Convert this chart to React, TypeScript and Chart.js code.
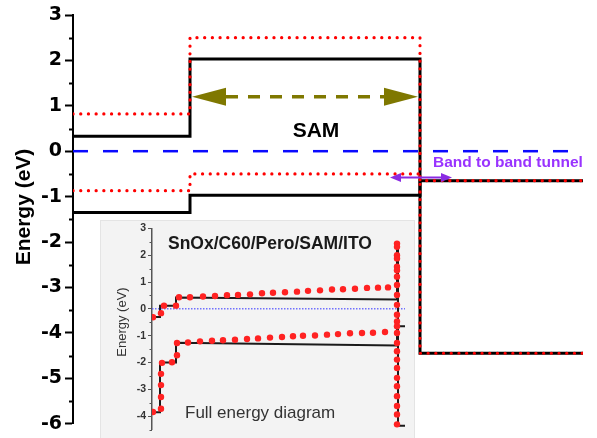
import React, { useEffect, useRef } from 'react';
import { Chart, registerables } from 'chart.js';

Chart.register(...registerables);

// ---------- Main diagram data ----------
const mainBoundaries = [0, 117, 347, 510]; // layer boundaries (a.u.): Perovskite | SAM | ITO
const mainLayers = ['Perovskite', 'SAM', 'ITO'];
const blackUpper = [0.33, 2.03, -4.45];
const blackLower = [-1.35, -0.97, -0.65];
const redUpper = [0.82, 2.5, -4.45];
const redLower = [-0.87, -0.5, -0.65];
const fermiLevel = [0, 0];
const fermiX = [0, 510];

// ---------- Inset (full energy diagram) data ----------
const insetBlackUpperX = [0, 8, 8, 24, 24, 245, 245, 246, 246, 253];
const insetBlackUpperY = [-0.3, -0.3, 0.12, 0.12, 0.42, 0.35, 2.3, 2.3, -4.35, -4.35];
const insetBlackLowerX = [0, 8, 8, 24, 24, 245, 245, 253];
const insetBlackLowerY = [-3.85, -3.85, -2.0, -2.0, -1.26, -1.36, -0.65, -0.65];
const insetRedUpperX = [1, 9, 12, 24, 27, 38, 51, 63, 75, 86, 98, 110, 121, 133, 145, 156, 168, 180, 191, 203, 215, 226, 236];
const insetRedUpperY = [-0.31, -0.16, 0.12, 0.12, 0.43, 0.43, 0.46, 0.48, 0.51, 0.52, 0.54, 0.58, 0.6, 0.62, 0.64, 0.67, 0.69, 0.72, 0.73, 0.75, 0.78, 0.79, 0.8];
const insetRedLowerX = [1, 9, 9, 9, 9, 10, 20, 25, 25, 36, 48, 60, 71, 83, 95, 106, 118, 130, 141, 151, 163, 175, 186, 198, 210, 221, 233];
const insetRedLowerY = [-3.84, -3.72, -3.28, -2.84, -2.42, -2.01, -1.99, -1.73, -1.27, -1.25, -1.21, -1.19, -1.17, -1.15, -1.12, -1.1, -1.07, -1.05, -1.02, -1.0, -0.99, -0.96, -0.94, -0.91, -0.9, -0.89, -0.86];
const insetRedColumnY = [2.43, 2.31, 2.0, 1.88, 1.57, 1.44, 1.2, 0.89, 0.52, 0.15, -0.22, -0.47, -0.65, -0.9, -1.27, -1.58, -1.89, -2.2, -2.57, -2.88, -3.25, -3.62, -3.93, -4.3];
const insetRedColumnX = 245;
const insetFermiX = [0, 253];
const insetFermiY = [0, 0];

const FONT = '"Liberation Sans", Arial, sans-serif';
const TICK_FONT = '"DejaVu Sans", "Liberation Sans", sans-serif';

function stepPath(bounds: number[], levels: number[]) {
  const pts: { x: number; y: number }[] = [];
  levels.forEach((v, i) => {
    pts.push({ x: bounds[i], y: v }, { x: bounds[i + 1], y: v });
  });
  return pts;
}

function zip(xs: number[], ys: number[]) {
  return xs.map((x, i) => ({ x, y: ys[i] }));
}

function head(ctx: CanvasRenderingContext2D, tx: number, ty: number, dir: number, len: number, half: number) {
  ctx.beginPath();
  ctx.moveTo(tx, ty);
  ctx.lineTo(tx - dir * len, ty - half);
  ctx.lineTo(tx - dir * len, ty + half);
  ctx.closePath();
  ctx.fill();
}

function minorTicks(chart: any, len: number, color: string, width: number) {
  const ctx = chart.ctx;
  const y = chart.scales.y;
  const left = chart.chartArea.left;
  ctx.save();
  ctx.strokeStyle = color;
  ctx.lineWidth = width;
  for (let v = y.min; v <= y.max + 1e-9; v += 0.5) {
    if (Math.abs(v % 1) > 0.01) {
      const py = Math.round(y.getPixelForValue(v)) + 0.5;
      ctx.beginPath();
      ctx.moveTo(left - len, py);
      ctx.lineTo(left, py);
      ctx.stroke();
    }
  }
  ctx.restore();
}

function verticalTitle(ctx: CanvasRenderingContext2D, text: string, x: number, y: number, font: string, color: string) {
  ctx.save();
  ctx.translate(x, y);
  ctx.rotate(-Math.PI / 2);
  ctx.font = font;
  ctx.fillStyle = color;
  ctx.textAlign = 'center';
  ctx.textBaseline = 'middle';
  ctx.fillText(text, 0, 0);
  ctx.restore();
}

const mainAnnotations = {
  id: 'mainAnnotations',
  afterDraw(chart: any) {
    const ctx = chart.ctx;
    const xs = chart.scales.x;
    const ys = chart.scales.y;
    minorTicks(chart, 4, '#000', 2);
    verticalTitle(ctx, 'Energy (eV)', 24, 207, `bold 21px ${FONT}`, '#000');
    ctx.save();
    // SAM width arrow (olive, dashed)
    const ay = ys.getPixelForValue(1.2);
    const ax1 = xs.getPixelForValue(119);
    const ax2 = xs.getPixelForValue(345);
    ctx.fillStyle = '#7f7800';
    ctx.strokeStyle = '#7f7800';
    head(ctx, ax1, ay, -1, 34, 9);
    head(ctx, ax2, ay, 1, 34, 9);
    ctx.lineWidth = 3.5;
    ctx.setLineDash([12, 10]);
    ctx.beginPath();
    ctx.moveTo(ax1 + 34, ay);
    ctx.lineTo(ax2 - 34, ay);
    ctx.stroke();
    ctx.setLineDash([]);
    // SAM label
    ctx.fillStyle = '#000';
    ctx.font = `bold 21px ${FONT}`;
    ctx.textAlign = 'center';
    ctx.textBaseline = 'middle';
    ctx.fillText('SAM', xs.getPixelForValue(243), ys.getPixelForValue(0.43));
    // band to band tunnel arrow
    const py = ys.getPixelForValue(-0.58);
    const px1 = xs.getPixelForValue(317);
    const px2 = xs.getPixelForValue(379);
    ctx.fillStyle = '#8a2be2';
    ctx.strokeStyle = '#8a2be2';
    ctx.lineWidth = 2;
    ctx.beginPath();
    ctx.moveTo(px1 + 8, py);
    ctx.lineTo(px2 - 8, py);
    ctx.stroke();
    head(ctx, px1, py, -1, 11, 4.5);
    head(ctx, px2, py, 1, 11, 4.5);
    ctx.fillStyle = '#9933ff';
    ctx.font = `bold 15.5px ${FONT}`;
    ctx.textAlign = 'left';
    ctx.fillText('Band to band tunnel', xs.getPixelForValue(360), ys.getPixelForValue(-0.26));
    ctx.restore();
  },
};

const insetDecor = {
  id: 'insetDecor',
  beforeDraw(chart: any) {
    const ctx = chart.ctx;
    ctx.save();
    ctx.fillStyle = '#f3f3f3';
    ctx.fillRect(0, 0, chart.width, chart.height);
    ctx.strokeStyle = '#e4e4e4';
    ctx.lineWidth = 1;
    ctx.strokeRect(0.5, 0.5, chart.width - 1, chart.height);
    ctx.restore();
  },
  afterDraw(chart: any) {
    const ctx = chart.ctx;
    minorTicks(chart, 2.5, '#555', 1);
    verticalTitle(ctx, 'Energy (eV)', 22, 102, `13px ${FONT}`, '#333');
    ctx.save();
    ctx.fillStyle = '#1a1a1a';
    ctx.font = `bold 17.5px ${FONT}`;
    ctx.textAlign = 'left';
    ctx.textBaseline = 'middle';
    ctx.fillText('SnOx/C60/Pero/SAM/ITO', 68, 24);
    ctx.fillStyle = '#333';
    ctx.font = `17px ${FONT}`;
    ctx.fillText('Full energy diagram', 85, 193);
    ctx.restore();
  },
};

function MainChart() {
  const ref = useRef<HTMLCanvasElement>(null);
  useEffect(() => {
    if (!ref.current) return;
    const chart = new Chart(ref.current, {
      type: 'line',
      data: {
        datasets: [
          { label: 'Red upper', data: stepPath(mainBoundaries, redUpper), borderColor: '#ff0000', borderWidth: 3.2, borderDash: [0.1, 7.6], borderCapStyle: 'round', pointRadius: 0, order: 0 },
          { label: 'Red lower', data: stepPath(mainBoundaries, redLower), borderColor: '#ff0000', borderWidth: 3.2, borderDash: [0.1, 7.6], borderCapStyle: 'round', pointRadius: 0, order: 0 },
          { label: 'Black upper', data: stepPath(mainBoundaries, blackUpper), borderColor: '#000', borderWidth: 3, pointRadius: 0, order: 2 },
          { label: 'Black lower', data: stepPath(mainBoundaries, blackLower), borderColor: '#000', borderWidth: 3, pointRadius: 0, order: 2 },
          { label: 'Fermi level', data: zip(fermiX, fermiLevel), borderColor: '#0a0aff', borderWidth: 2.5, borderDash: [15, 15], pointRadius: 0, order: 3 },
        ] as any,
      },
      options: {
        animation: false,
        responsive: false,
        devicePixelRatio: 1,
        layout: { padding: { top: 15, bottom: 13, left: 0, right: 14 } },
        plugins: { legend: { display: false }, tooltip: { enabled: false } },
        elements: { line: { tension: 0 } },
        scales: {
          x: { type: 'linear', min: 0, max: 510, display: false },
          y: {
            min: -6,
            max: 3,
            afterFit: (s: any) => { s.width = 73; },
            ticks: {
              stepSize: 0.5,
              autoSkip: false,
              padding: 3,
              color: '#000',
              font: { family: TICK_FONT, size: 19, weight: 'bold' },
              callback: (v: any) => (Math.abs(v % 1) < 0.01 ? String(v) : ''),
            },
            grid: {
              drawOnChartArea: false,
              tickLength: 8,
              tickWidth: 2,
              tickColor: (c: any) => (c.tick && Math.abs(c.tick.value % 1) < 0.01 ? '#000' : 'rgba(0,0,0,0)'),
            },
            border: { display: true, color: '#000', width: 2 },
            title: { display: false },
          },
        },
      },
      plugins: [mainAnnotations],
    } as any);
    return () => chart.destroy();
  }, []);
  return <canvas ref={ref} width={597} height={438} style={{ position: 'absolute', left: 0, top: 0 }} />;
}

function InsetChart() {
  const ref = useRef<HTMLCanvasElement>(null);
  useEffect(() => {
    if (!ref.current) return;
    const chart = new Chart(ref.current, {
      type: 'line',
      data: {
        datasets: [
          { label: 'Red upper', data: zip(insetRedUpperX, insetRedUpperY), showLine: false, pointRadius: 3.2, pointBackgroundColor: '#ff2222', pointBorderWidth: 0, order: 0 },
          { label: 'Red lower', data: zip(insetRedLowerX, insetRedLowerY), showLine: false, pointRadius: 3.2, pointBackgroundColor: '#ff2222', pointBorderWidth: 0, order: 0 },
          { label: 'Red SAM/ITO', data: insetRedColumnY.map((y) => ({ x: insetRedColumnX, y })), showLine: false, pointRadius: 3.2, pointBackgroundColor: '#ff2222', pointBorderWidth: 0, order: 0 },
          { label: 'Black upper', data: zip(insetBlackUpperX, insetBlackUpperY), borderColor: '#1a1a1a', borderWidth: 2, pointRadius: 0, order: 1 },
          { label: 'Black lower', data: zip(insetBlackLowerX, insetBlackLowerY), borderColor: '#1a1a1a', borderWidth: 2, pointRadius: 0, order: 1 },
          { label: 'Fermi', data: zip(insetFermiX, insetFermiY), borderColor: 'rgba(80,80,255,0.8)', borderWidth: 1.5, borderDash: [1.5, 1.5], pointRadius: 0, order: 2 },
        ] as any,
      },
      options: {
        animation: false,
        responsive: false,
        devicePixelRatio: 1,
        layout: { padding: { top: 8, bottom: 8, left: 0, right: 10 } },
        plugins: { legend: { display: false }, tooltip: { enabled: false } },
        scales: {
          x: { type: 'linear', min: 0, max: 253, display: false },
          y: {
            min: -4.5,
            max: 3,
            afterFit: (s: any) => { s.width = 52; },
            ticks: {
              stepSize: 0.5,
              autoSkip: false,
              padding: 2,
              color: '#333',
              font: { family: FONT, size: 10.5, weight: 'bold' },
              callback: (v: any) => (Math.abs(v % 1) < 0.01 ? String(v) : ''),
            },
            grid: {
              drawOnChartArea: false,
              tickLength: 4,
              tickWidth: 1,
              tickColor: (c: any) => (c.tick && Math.abs(c.tick.value % 1) < 0.01 ? '#555' : 'rgba(0,0,0,0)'),
            },
            border: { display: true, color: '#555', width: 1.5 },
            title: { display: false },
          },
        },
      },
      plugins: [insetDecor],
    } as any);
    return () => chart.destroy();
  }, []);
  return <canvas ref={ref} width={315} height={218} style={{ position: 'absolute', left: 100, top: 220 }} />;
}

export default function App() {
  return (
    <div style={{ position: 'absolute', left: 0, top: 0, width: 597, height: 438, background: '#fff', overflow: 'hidden' }}>
      <MainChart />
      <InsetChart />
    </div>
  );
}
